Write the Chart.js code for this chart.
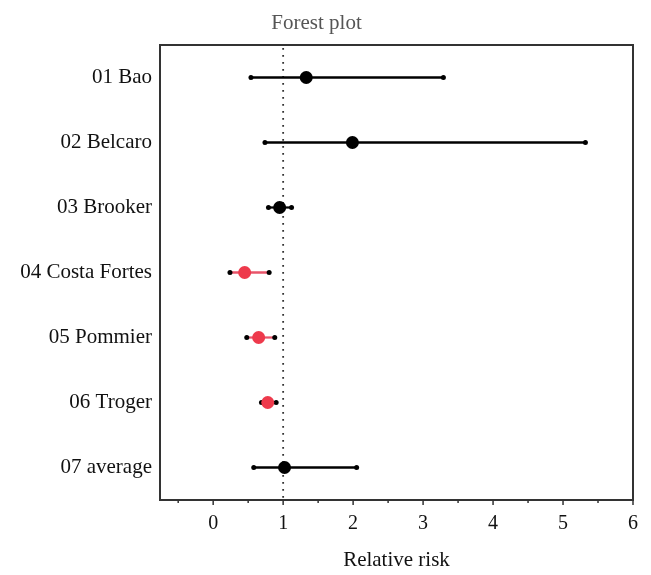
<!DOCTYPE html>
<html>
<head>
<meta charset="utf-8">
<script src="https://cdn.jsdelivr.net/npm/chart.js@4.4.1/dist/chart.umd.min.js"></script>
<style>
  html, body { margin: 0; padding: 0; background: #fff; }
  #wrap { width: 651px; height: 575px; }
</style>
</head>
<body>
<div id="wrap"><canvas id="c" width="651" height="575"></canvas></div>
<script>
const studies = ['01 Bao', '02 Belcaro', '03 Brooker', '04 Costa Fortes', '05 Pommier', '06 Troger', '07 average'];
const estimate = [1.33, 1.99, 0.95, 0.45, 0.65, 0.78, 1.02];
const lower    = [0.54, 0.74, 0.79, 0.24, 0.48, 0.69, 0.58];
const upper    = [3.29, 5.32, 1.12, 0.80, 0.88, 0.90, 2.05];
const significant = [false, false, false, true, true, true, false];
const xTickLabels = [0, 1, 2, 3, 4, 5, 6];
const xMinorTicks = [-0.5, 0.5, 1.5, 2.5, 3.5, 4.5, 5.5];
const referenceValue = 1;
const xMin = -0.76, xMax = 6;

const RED = '#EE3A4C';
const RED_LINE = '#E8556A';
const FONT = 'Liberation Serif';

const framePlugin = {
  id: 'frame',
  beforeDatasetsDraw(chart) {
    const {ctx, chartArea: a, scales: {x}} = chart;
    const px = x.getPixelForValue(referenceValue);
    ctx.save();
    ctx.strokeStyle = '#333';
    ctx.lineWidth = 1.8;
    ctx.setLineDash([1.8, 5.2]);
    ctx.beginPath();
    ctx.moveTo(px, a.top + 3);
    ctx.lineTo(px, a.bottom);
    ctx.stroke();
    ctx.restore();
  },
  afterDraw(chart) {
    const {ctx, chartArea: a, scales: {x}} = chart;
    ctx.save();
    ctx.strokeStyle = '#333';
    ctx.lineWidth = 2;
    ctx.strokeRect(a.left, a.top, a.right - a.left, a.bottom - a.top);
    ctx.lineWidth = 1.5;
    ctx.beginPath();
    xTickLabels.forEach(v => {
      const p = x.getPixelForValue(v);
      ctx.moveTo(p, a.bottom);
      ctx.lineTo(p, a.bottom + 5);
    });
    xMinorTicks.forEach(v => {
      const p = x.getPixelForValue(v);
      ctx.moveTo(p, a.bottom);
      ctx.lineTo(p, a.bottom + 3);
    });
    ctx.stroke();
    ctx.restore();
  }
};

new Chart(document.getElementById('c'), {
  type: 'bar',
  data: {
    labels: studies,
    datasets: [
      {
        type: 'line',
        indexAxis: 'y',
        label: 'Estimate',
        data: estimate,
        showLine: false,
        pointRadius: 6.5,
        pointBackgroundColor: significant.map(s => s ? RED : '#000'),
        pointBorderWidth: 0,
        order: 0
      },
      {
        type: 'line',
        indexAxis: 'y',
        label: 'Lower',
        data: lower,
        showLine: false,
        pointRadius: 2.5,
        pointBackgroundColor: '#000',
        pointBorderWidth: 0,
        order: 1
      },
      {
        type: 'line',
        indexAxis: 'y',
        label: 'Upper',
        data: upper,
        showLine: false,
        pointRadius: 2.5,
        pointBackgroundColor: '#000',
        pointBorderWidth: 0,
        order: 2
      },
      {
        type: 'bar',
        indexAxis: 'y',
        label: 'CI',
        data: lower.map((l, i) => [l, upper[i]]),
        backgroundColor: significant.map(s => s ? RED_LINE : '#000'),
        borderWidth: 0,
        barThickness: 1.6,
        order: 3
      }
    ]
  },
  options: {
    indexAxis: 'y',
    responsive: false,
    animation: false,
    events: [],
    layout: { padding: { left: 0, right: 18, top: 0, bottom: 0 } },
    plugins: {
      legend: { display: false },
      tooltip: { enabled: false },
      title: {
        display: true,
        text: 'Forest plot',
        color: '#555',
        font: { family: FONT, size: 21, weight: 'normal' },
        padding: { top: 11, bottom: 8.8 }
      }
    },
    scales: {
      y: {
        type: 'category',
        offset: true,
        grid: { display: false, drawTicks: false },
        border: { display: false },
        ticks: { color: '#111', padding: 8, font: { family: FONT, size: 21 } },
        afterFit(scale) { scale.width = 160; }
      },
      x: {
        type: 'linear',
        min: xMin,
        max: xMax,
        grid: { display: false, drawTicks: false },
        border: { display: false },
        afterBuildTicks(scale) { scale.ticks = xTickLabels.map(v => ({ value: v })); },
        ticks: { color: '#111', padding: 12, font: { family: FONT, size: 20 }, maxRotation: 0 },
        title: {
          display: true,
          text: 'Relative risk',
          color: '#111',
          font: { family: FONT, size: 21 },
          padding: { top: 0, bottom: 1.5 }
        },
        afterFit(scale) { scale.height = 75; }
      }
    }
  },
  plugins: [framePlugin]
});
</script>
</body>
</html>
